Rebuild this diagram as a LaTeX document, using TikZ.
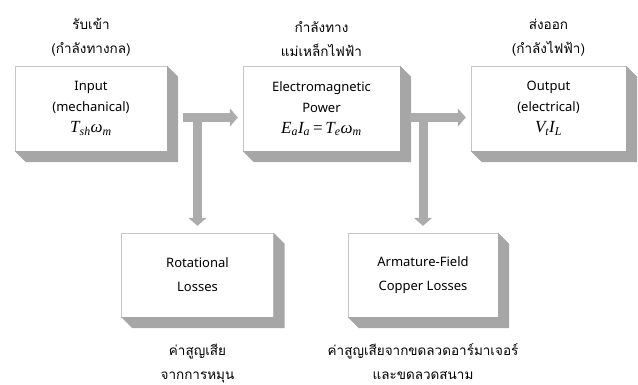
\documentclass[tikz,border=0pt]{standalone}
\usepackage{fontspec}
\setsansfont{Noto Sans}
\newfontfamily\thaifont[Script=Thai]{Loma}
\newfontfamily\timesfont{Liberation Serif}
\usepackage{tikz}
\usetikzlibrary{positioning,arrows.meta}

% raised side of a block
\newcommand{\blockdepth}[1]{%
  \fill[depth] (#1.north east) -- ++(11,-11) -- ([shift={(11,-11)}]#1.south east)
    -- ([shift={(11,-11)}]#1.south west) -- (#1.south west) -- (#1.south east) -- cycle;}
\newcommand{\qty}[1]{{\timesfont\itshape\fontsize{17}{21}\selectfont #1}}
\newcommand{\sub}[1]{\textsubscript{#1}}

\begin{document}
\begin{tikzpicture}[
    x=1pt, y=1pt,
    node distance=6pt,
    block/.style={rectangle, draw=gray!45, fill=white, minimum width=152pt,
                  minimum height=85pt, align=center, inner sep=0pt,
                  font=\sffamily\fontsize{13}{21}\selectfont},
    depth/.style={fill=gray!70},
    thai/.style={align=center, font=\thaifont\fontsize{13.5}{24}\selectfont},
    flow/.style={-{Triangle[width=18pt,length=8pt]}, line width=9pt, draw=gray!65},
]
\useasboundingbox (0,0) rectangle (638,-385);

\node[block] (inp) at (91,-108.5) {Input\\(mechanical)\\\qty{T\sub{sh}ω\sub{m}}};
\node[block, minimum width=157pt] (em) at (321.5,-108.5) {Electromagnetic\\Power\\\qty{E\sub{a}I\sub{a}\,{\upshape =}\,T\sub{e}ω\sub{m}}};
\node[block, minimum width=155pt] (out) at (548.5,-108.5) {Output\\(electrical)\\\qty{V\sub{t}I\sub{L}}};
\node[block, minimum height=84pt, font=\sffamily\fontsize{13}{24}\selectfont] (rot) at (197.5,-275) {Rotational\\Losses};
\node[block, minimum width=150pt, minimum height=84pt, font=\sffamily\fontsize{13}{24}\selectfont] (arm) at (423,-275) {Armature-Field\\Copper Losses};

\blockdepth{inp}
\blockdepth{em}
\blockdepth{out}
\blockdepth{rot}
\blockdepth{arm}

\node[thai, above=of inp] (inplbl) {รับเข้า\\(กำลังทางกล)};
\node[thai, above=of em] (emlbl) {กำลังทาง\\แม่เหล็กไฟฟ้า};
\node[thai, above=of out] (outlbl) {ส่งออก\\(กำลังไฟฟ้า)};
\node[thai, below=23pt of rot] (rotlbl) {ค่าสูญเสีย\\จากการหมุน};
\node[thai, below=23pt of arm] (armlbl) {ค่าสูญเสียจากขดลวดอาร์มาเจอร์\\และขดลวดสนาม};

\coordinate (j1) at ([yshift=-13.5pt]inp.east);
\coordinate (j2) at ([yshift=-13.5pt]em.east);

\draw[flow] ([xshift=16pt,yshift=-9pt]inp.east) -- ([xshift=-5pt,yshift=-9pt]em.west);
\draw[flow] ([xshift=10pt,yshift=-9pt]em.east) -- ([xshift=-5pt,yshift=-9pt]out.west);
\draw[flow] (rot.north |- j1) -- ([yshift=7pt]rot.north);
\draw[flow] (arm.north |- j2) -- ([yshift=7pt]arm.north);
\end{tikzpicture}
\end{document}
